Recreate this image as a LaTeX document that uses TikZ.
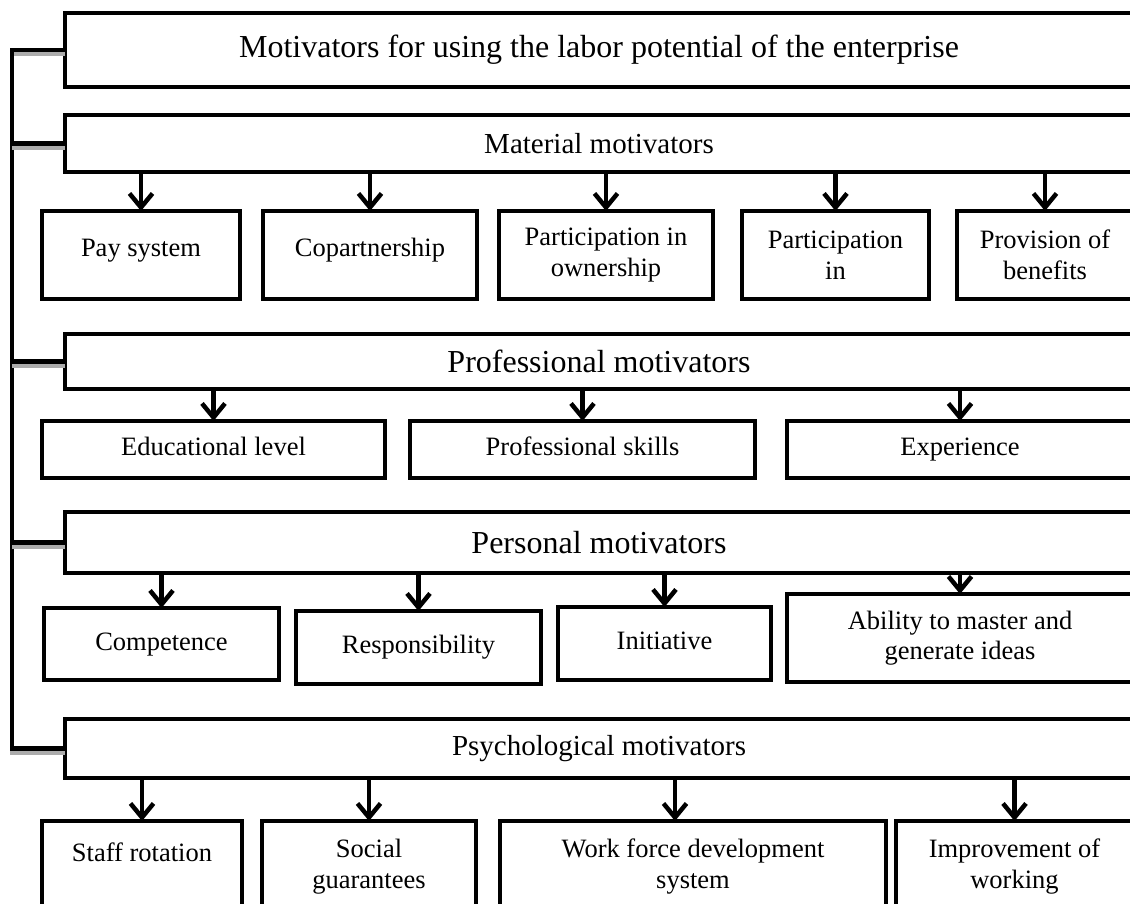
\documentclass[tikz,border=0pt]{standalone}
\usepackage{fontspec}
\setmainfont{Liberation Serif}
\usetikzlibrary{arrows.meta, positioning, calc}

\begin{document}
\begin{tikzpicture}[x=1pt, y=-1pt,
    catbox/.style={draw, line width=4.5pt, rectangle, inner sep=0pt, outer sep=0pt, anchor=north west, minimum width=1068pt},
    kidbox/.style={draw, line width=4.5pt, rectangle, inner sep=0pt, outer sep=0pt, anchor=north west, align=center, font=\fontsize{26.5}{30.5}\selectfont},
    oneline/.style={text height=18pt, text depth=#1},
    oneline/.default=6pt,
    bigfont/.style={font=\fontsize{32}{36}\selectfont},
    midfont/.style={font=\fontsize{29}{33}\selectfont},
    dn/.style={->, >={Straight Barb[length=14pt, width=23pt]}, line width=4.5pt},
    spine/.style={line width=4.5pt, preaction={draw=gray!65, line width=4.5pt, transform canvas={yshift=-4pt}}}]

      \useasboundingbox (0,0) rectangle (1130,903);
      \clip (0,0) rectangle (1130,903);

      % motivator groups
      \node[catbox, minimum height=74pt, bigfont] (top) at (65,13) {Motivators for using the labor potential of the enterprise};
      \node[catbox, minimum height=57pt, midfont] (mat) at (65,115) {Material motivators};
      \node[catbox, minimum height=55pt, bigfont] (prof) at (65,334) {Professional motivators};
      \node[catbox, minimum height=61pt, bigfont] (pers) at (65,512) {Personal motivators};
      \node[catbox, minimum height=59pt, midfont] (psy) at (65,719) {Psychological motivators};

      % material
      \node[kidbox, oneline=15pt, minimum width=198pt, minimum height=88pt] (pay) at (42,211) {Pay system};
      \node[kidbox, oneline=15pt, minimum width=214pt, minimum height=88pt] (coop) at (263,211) {Copartnership};
      \node[kidbox, minimum width=214pt, minimum height=88pt] (own) at (499,211) {Participation in\\ownership};
      \node[kidbox, minimum width=187pt, minimum height=88pt] (part) at (742,211) {Participation\\in};
      \node[kidbox, minimum width=176pt, minimum height=88pt] (prov) at (957,211) {Provision of\\benefits};

      % professional
      \node[kidbox, oneline, minimum width=343pt, minimum height=57pt] (edu) at (42,421) {Educational level};
      \node[kidbox, oneline, minimum width=345pt, minimum height=57pt] (skill) at (410,421) {Professional skills};
      \node[kidbox, oneline, minimum width=346pt, minimum height=57pt] (exp) at (787,421) {Experience};

      % personal
      \node[kidbox, oneline, minimum width=235pt, minimum height=72pt] (comp) at (44,608) {Competence};
      \node[kidbox, oneline, minimum width=245pt, minimum height=73pt] (resp) at (296,611) {Responsibility};
      \node[kidbox, oneline, minimum width=213pt, minimum height=73pt] (init) at (558,607) {Initiative};
      \node[kidbox, minimum width=346pt, minimum height=88pt] (abil) at (787,594) {Ability to master and\\generate ideas};

      % psychological
      \node[kidbox, oneline=28pt, minimum width=200pt, minimum height=91pt] (staff) at (42,821) {Staff rotation};
      \node[kidbox, minimum width=214pt, minimum height=91pt] (soc) at (262,821) {Social\\guarantees};
      \node[kidbox, minimum width=386pt, minimum height=91pt] (work) at (500,821) {Work force development\\system};
      \node[kidbox, minimum width=237pt, minimum height=91pt] (impr) at (896,821) {Improvement of\\working};

      % left bracket
      \coordinate (sp) at (12,0);
      \draw[spine] (top.west) -| (sp |- psy.west) -- (psy.west);
      \draw[spine] (mat.west) -- (sp |- mat.west);
      \draw[spine] (prof.west) -- (sp |- prof.west);
      \draw[spine] (pers.west) -- (sp |- pers.west);

      % arrows
      \draw[dn] (mat.south -| pay.north) -- (pay.north);
      \draw[dn] (mat.south -| coop.north) -- (coop.north);
      \draw[dn] (mat.south -| own.north) -- (own.north);
      \draw[dn] (mat.south -| part.north) -- (part.north);
      \draw[dn] (mat.south -| prov.north) -- (prov.north);

      \draw[dn] (prof.south -| edu.north) -- (edu.north);
      \draw[dn] (prof.south -| skill.north) -- (skill.north);
      \draw[dn] (prof.south -| exp.north) -- (exp.north);

      \draw[dn] (pers.south -| comp.north) -- (comp.north);
      \draw[dn] (pers.south -| resp.north) -- (resp.north);
      \draw[dn] (pers.south -| init.north) -- (init.north);
      \draw[dn] (pers.south -| abil.north) -- (abil.north);

      \draw[dn] (psy.south -| staff.north) -- (staff.north);
      \draw[dn] (psy.south -| soc.north) -- (soc.north);
      \draw[dn] ($(psy.south -| work.north)+(-18,0)$) -- ($(work.north)+(-18,0)$);
      \draw[dn] (psy.south -| impr.north) -- (impr.north);

    \end{tikzpicture}
\end{document}
